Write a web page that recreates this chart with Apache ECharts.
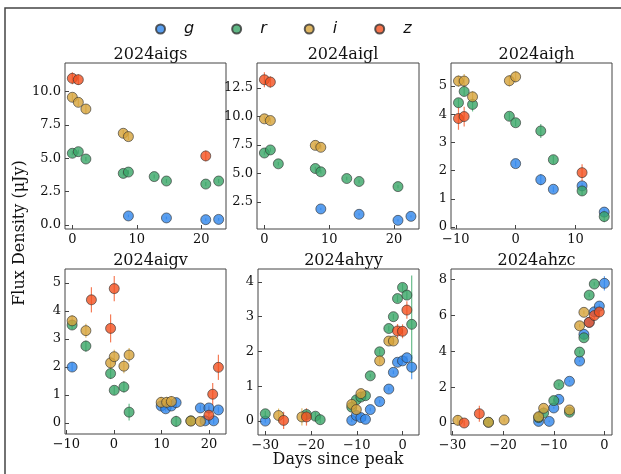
<!DOCTYPE html>
<html><head><meta charset="utf-8">
<script src="https://cdn.jsdelivr.net/npm/echarts@6/dist/echarts.min.js"></script>
<style>html,body{margin:0;padding:0;background:#fff}#c{width:621px;height:474px}</style>
</head><body><div id="c"></div>
<script>
// ---- data: [days since peak, flux density (uJy), error] ----
const bands = ['g', 'r', 'i', 'z'];
const panelNames = ['2024aigs', '2024aigl', '2024aigh', '2024aigv', '2024ahyy', '2024ahzc'];

const aigs_g = [[8.7,0.68,0.1],[14.6,0.53,0.1],[20.7,0.4,0.1],[22.7,0.42,0.1]];
const aigs_r = [[0,5.38,0.15],[0.93,5.5,0.15],[2.1,4.95,0.15],[7.9,3.87,0.15],[8.7,3.97,0.15],[12.7,3.63,0.15],[14.6,3.3,0.15],[20.7,3.07,0.15],[22.7,3.3,0.15]];
const aigs_i = [[0,9.58,0.3],[0.93,9.2,0.3],[2.1,8.7,0.35],[7.9,6.88,0.25],[8.7,6.63,0.25]];
const aigs_z = [[0,11.0,0.45],[0.93,10.9,0.4],[20.7,5.18,0.4]];

const aigl_g = [[8.7,1.89,0.1],[14.6,1.42,0.1],[20.6,0.89,0.1],[22.6,1.24,0.1]];
const aigl_r = [[0,6.8,0.15],[0.92,7.07,0.15],[2.15,5.85,0.15],[7.85,5.44,0.15],[8.7,5.15,0.15],[12.7,4.56,0.15],[14.6,4.3,0.15],[20.6,3.85,0.15]];
const aigl_i = [[0,9.8,0.2],[0.92,9.65,0.25],[7.85,7.47,0.2],[8.7,7.3,0.2]];
const aigl_z = [[0,13.23,0.65],[0.92,13.03,0.5]];

const aigh_g = [[0,2.25,0.1],[4.2,1.68,0.2],[6.3,1.34,0.1],[11.1,1.46,0.1],[14.8,0.53,0.1]];
const aigh_r = [[-9.55,4.41,0.15],[-8.6,4.81,0.15],[-7.2,4.35,0.25],[-1.05,3.93,0.15],[0,3.7,0.12],[4.2,3.41,0.25],[6.3,2.39,0.15],[11.1,1.28,0.15],[14.8,0.37,0.2]];
const aigh_i = [[-9.55,5.18,0.2],[-8.6,5.18,0.25],[-7.2,4.62,0.2],[-1.05,5.19,0.2],[0,5.33,0.2]];
const aigh_z = [[-9.55,3.85,0.4],[-8.6,3.92,0.35],[11.1,1.93,0.3]];

const aigv_g = [[-8.8,2.0,0.15],[9.95,0.61,0.1],[10.9,0.51,0.1],[12.1,0.61,0.1],[13.1,0.73,0.15],[18.2,0.54,0.1],[19.2,0.08,0.1],[20,0.54,0.1],[21,0.08,0.1],[22,0.47,0.1]];
const aigv_r = [[-8.8,3.5,0.15],[-5.9,2.75,0.2],[-0.7,1.77,0.2],[0.07,1.17,0.15],[2.1,1.29,0.2],[3.2,0.39,0.3],[13.1,0.06,0.2],[16.2,0.08,0.1]];
const aigv_i = [[-8.8,3.65,0.2],[-5.9,3.3,0.25],[-0.7,2.15,0.25],[0.07,2.37,0.25],[2.1,2.03,0.25],[3.2,2.43,0.25],[9.95,0.74,0.2],[11.1,0.74,0.2],[12.1,0.77,0.2],[16.2,0.07,0.15],[18.2,0.06,0.15]];
const aigv_z = [[-4.74,4.4,0.45],[0.07,4.8,0.45],[-0.7,3.38,0.5],[20,0.28,0.3],[20.8,1.03,0.4],[22,1.99,0.45]];

const ahyy_g = [[-30,0,0.05],[-11.1,0.02,0.05],[-10.1,0.16,0.05],[-9.1,0.1,0.05],[-8.1,0.05,0.05],[-7.05,0.33,0.05],[-5,0.56,0.05],[-3,0.92,0.05],[-2,1.4,0.05],[-1.1,1.69,0.05],[0,1.73,0.05],[0.95,1.82,0.05],[2,1.55,0.35]];
const ahyy_r = [[-30,0.21,0.08],[-21,0.19,0.1],[-19.05,0.14,0.12],[-18,0.04,0.1],[-11.1,0.4,0.08],[-10.1,0.61,0.08],[-9.1,0.69,0.08],[-8.1,0.73,0.1],[-7.05,1.3,0.05],[-5,1.99,0.08],[-3,2.66,0.08],[-2,3.0,0.08],[-1.1,3.52,0.1],[0,3.84,0.12],[0.95,3.62,0.12],[2,2.78,1.4]];
const ahyy_i = [[-27.1,0.16,0.2],[-22,0.12,0.25],[-11.1,0.48,0.1],[-10.1,0.33,0.1],[-9.1,0.79,0.12],[-5,1.73,0.1],[-3,2.3,0.1],[-2,2.3,0.12]];
const ahyy_z = [[-26,0.02,0.25],[-21,0.12,0.25],[-1.1,2.59,0.2],[0,2.58,0.2],[0.95,3.19,0.25]];

const ahzc_g = [[-13,0.09,0.05],[-10.9,0.09,0.05],[-10,0.84,0.05],[-9,1.32,0.05],[-6.9,2.33,0.05],[-4.9,3.46,0.05],[-4.05,4.95,0.1],[-3,5.62,0.1],[-2,6.21,0.1],[-1,6.53,0.1],[0,7.8,0.4]];
const ahzc_r = [[-22.9,0.04,0.1],[-13,0.3,0.1],[-12,0.56,0.1],[-10,1.25,0.1],[-9,2.14,0.1],[-6.9,0.6,0.1],[-4.9,3.96,0.1],[-4.05,4.76,0.1],[-3,7.14,0.1],[-2,7.76,0.1]];
const ahzc_i = [[-28.95,0.15,0.3],[-22.9,0.04,0.1],[-19.8,0.17,0.1],[-13,0.35,0.1],[-12,0.82,0.1],[-6.9,0.73,0.1],[-4.9,5.43,0.1],[-4.05,6.18,0.1]];
const ahzc_z = [[-27.7,0,0.15],[-24.7,0.52,0.45],[-3,5.62,0.2],[-2,6.0,0.3],[-1,6.2,0.3]];

// tick values per panel
const xTicks = [[0,10,20],[0,10,20],[-10,0,10],[-10,0,10,20],[-30,-20,-10,0],[-30,-20,-10,0]];
const yTicks = [[0,2.5,5,7.5,10],[2.5,5,7.5,10,12.5],[0,1,2,3,4,5],[0,1,2,3,4,5],[0,1,2,3,4],[0,2,4,6,8]];

const panelData = [
  [aigs_g, aigs_r, aigs_i, aigs_z],
  [aigl_g, aigl_r, aigl_i, aigl_z],
  [aigh_g, aigh_r, aigh_i, aigh_z],
  [aigv_g, aigv_r, aigv_i, aigv_z],
  [ahyy_g, ahyy_r, ahyy_i, ahyy_z],
  [ahzc_g, ahzc_r, ahzc_i, ahzc_z]
];

// ---- layout / style ----
const colors = {g:'#2f86eb', r:'#38a566', i:'#d6a33a', z:'#f2501f'};
const grids = [
  {left:65, top:63, width:161, height:166},
  {left:257, top:63, width:162, height:166},
  {left:451, top:63, width:161, height:166},
  {left:65, top:269, width:161, height:165},
  {left:258, top:269, width:161, height:166},
  {left:451, top:269, width:161, height:166}
];
const xRange = [[-1.14,23.84],[-1.14,23.84],[-10.8,16.1],[-10.3,23.6],[-31.6,3.6],[-30.3,1.5]];
const yRange = [[-0.3,12.15],[0.13,14.7],[-0.07,5.82],[-0.39,5.5],[-0.4,4.37],[-0.67,8.6]];
const yDec = [1,1,0,0,0,0];
const SERIF = 'DejaVu Serif';
const fmt = (v, d) => Number(v).toFixed(d).replace('-', '\u2212');

const option = {
  animation:false,
  backgroundColor:'#fff',
  legend:{
    data:bands, left:155, top:21, padding:0, itemGap:37,
    icon:'circle', itemWidth:9, itemHeight:9,
    textStyle:{fontFamily:'DejaVu Sans', fontStyle:'italic', fontSize:16, color:'#111', padding:[0,0,0,14]}
  },
  title: grids.map((g,k)=>({
    text:panelNames[k], left:g.left + g.width/2, top:g.top - 21, textAlign:'center',
    textStyle:{fontFamily:SERIF, fontWeight:'normal', fontSize:16, color:'#111'}
  })),
  grid: grids.map(g=>Object.assign({show:true, borderColor:'#444', borderWidth:1, backgroundColor:'transparent'}, g)),
  xAxis: grids.map((g,k)=>({
    type:'value', gridIndex:k, min:xRange[k][0], max:xRange[k][1], position:'bottom',
    axisLine:{show:false, onZero:false}, splitLine:{show:false},
    axisTick:{show:true, inside:true, length:4, lineStyle:{color:'#444'}, customValues:xTicks[k]},
    axisLabel:{customValues:xTicks[k], fontFamily:SERIF, fontSize:13, color:'#111', margin:4,
      formatter:v=>fmt(v,0)}
  })),
  yAxis: grids.map((g,k)=>({
    type:'value', gridIndex:k, min:yRange[k][0], max:yRange[k][1], position:'left',
    axisLine:{show:false, onZero:false}, splitLine:{show:false},
    axisTick:{show:true, inside:true, length:4, lineStyle:{color:'#444'}, customValues:yTicks[k]},
    axisLabel:{customValues:yTicks[k], fontFamily:SERIF, fontSize:13, color:'#111', margin:4,
      formatter:v=>fmt(v,yDec[k])}
  })),
  graphic:[
    {type:'rect', shape:{x:5, y:8, width:700, height:600}, style:{fill:'none', stroke:'#444', lineWidth:1.5}, silent:true},
    {type:'text', x:20, y:233, rotation:Math.PI/2, style:{text:'Flux Density (\u03bcJy)', font:'16px "DejaVu Serif"', fill:'#111', align:'center', verticalAlign:'middle'}},
    {type:'text', x:338, y:460, style:{text:'Days since peak', font:'16px "DejaVu Serif"', fill:'#111', align:'center', verticalAlign:'middle'}}
  ],
  series:[]
};

panelData.forEach((arrs,k)=>{
  arrs.forEach((arr,b)=>{
    const band = bands[b];
    option.series.push({
      name:'err_'+band, type:'custom', xAxisIndex:k, yAxisIndex:k, z:1,
      data:arr, encode:{x:0, y:1},
      renderItem:(params, api)=>{
        const x = api.value(0), y = api.value(1), e = api.value(2);
        const p1 = api.coord([x, y - e]), p2 = api.coord([x, y + e]);
        return {type:'line', shape:{x1:p1[0], y1:p1[1], x2:p2[0], y2:p2[1]},
          style:{stroke:colors[band], lineWidth:1.2, opacity:0.75}};
      }
    });
  });
});
panelData.forEach((arrs,k)=>{
  arrs.forEach((arr,b)=>{
    const band = bands[b];
    option.series.unshift({
      name:band, type:'scatter', xAxisIndex:k, yAxisIndex:k, z:2+b,
      data:arr.map(p=>[p[0],p[1]]), symbol:'circle', symbolSize:10,
      itemStyle:{color:colors[band], opacity:0.8, borderColor:'#333', borderWidth:0.8}
    });
  });
});

const chart = echarts.init(document.getElementById('c'), null, {renderer:'canvas'});
chart.setOption(option);
</script>
</body></html>
